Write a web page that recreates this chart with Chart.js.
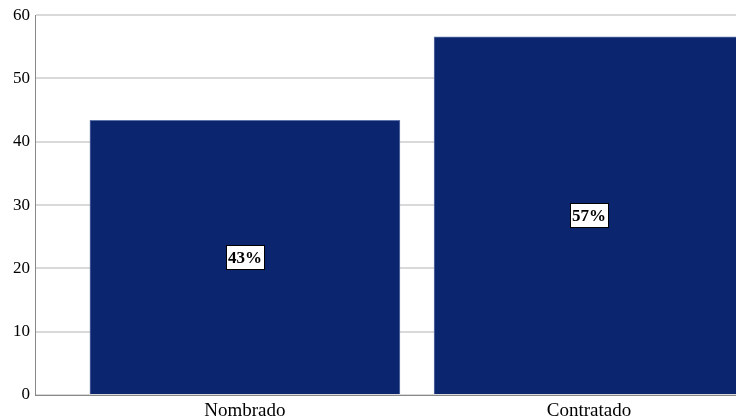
<!DOCTYPE html>
<html>
<head>
<meta charset="utf-8">
<script src="https://cdn.jsdelivr.net/npm/chart.js@4/dist/chart.umd.min.js"></script>
<style>
  html, body { margin: 0; padding: 0; background: #fff; }
  #wrap { width: 736px; height: 420px; }
</style>
</head>
<body>
<div id="wrap"><canvas id="chart"></canvas></div>
<script>
var categories = ['Nombrado', 'Contratado'];
var values = [43.4, 56.6];
var pctLabels = ['43%', '57%'];
var yTicks = [0, 10, 20, 30, 40, 50, 60];

var serif = '"Liberation Serif", "Times New Roman", serif';

// white boxed percentage in the middle of each bar
var boxLabels = {
    id: 'boxLabels',
    afterDatasetsDraw: function (chart) {
        var ctx = chart.ctx;
        var meta = chart.getDatasetMeta(0);
        ctx.save();
        ctx.font = 'bold 17px ' + serif;
        ctx.textAlign = 'center';
        ctx.textBaseline = 'middle';
        meta.data.forEach(function (bar, i) {
            var x = bar.x;
            var y = (bar.y + bar.base) / 2;
            var w = Math.round(ctx.measureText(pctLabels[i]).width + 4);
            var h = 24;
            var bx = Math.round(x - w / 2) + 0.5;
            var by = Math.round(y - h / 2) + 0.5;
            ctx.fillStyle = '#ffffff';
            ctx.fillRect(bx, by, w, h);
            ctx.strokeStyle = '#000000';
            ctx.lineWidth = 1;
            ctx.strokeRect(bx, by, w, h);
            ctx.fillStyle = '#000000';
            ctx.fillText(pctLabels[i], x, y + 1);
        });
        ctx.restore();
    }
};

var ctx = document.getElementById('chart').getContext('2d');
new Chart(ctx, {
    type: 'bar',
    data: {
        datasets: [{
            data: values.map(function (v, i) { return { x: i + 1, y: v }; }),
            backgroundColor: '#0b266f',
            borderColor: '#5f74a8',
            borderWidth: 1,
            barThickness: 310
        }]
    },
    options: {
        responsive: true,
        maintainAspectRatio: false,
        animation: false,
        layout: { padding: { top: 15, right: 0, bottom: 0, left: 0 } },
        plugins: {
            legend: { display: false },
            tooltip: { enabled: false }
        },
        scales: {
            x: {
                type: 'linear',
                offset: false,
                bounds: 'ticks',
                min: 0.39,
                max: 2.427,
                afterBuildTicks: function (axis) {
                    axis.ticks = categories.map(function (c, i) { return { value: i + 1 }; });
                },
                afterFit: function (axis) { axis.height = 25; },
                ticks: {
                    autoSkip: false,
                    maxRotation: 0,
                    padding: 5,
                    color: '#000',
                    font: { family: serif, size: 19 },
                    callback: function (v) { return categories[v - 1]; }
                },
                grid: { display: false, drawTicks: false, offset: false },
                border: { color: '#888888', width: 1 }
            },
            y: {
                min: 0,
                max: 60,
                afterBuildTicks: function (axis) {
                    axis.ticks = yTicks.map(function (v) { return { value: v }; });
                },
                afterFit: function (axis) { axis.width = 35; },
                ticks: {
                    padding: 5,
                    color: '#000',
                    font: { family: serif, size: 17 }
                },
                grid: { color: '#d9d9d9', lineWidth: 2, drawTicks: false },
                border: { color: '#888888', width: 1 }
            }
        }
    },
    plugins: [boxLabels]
});
</script>
</body>
</html>
